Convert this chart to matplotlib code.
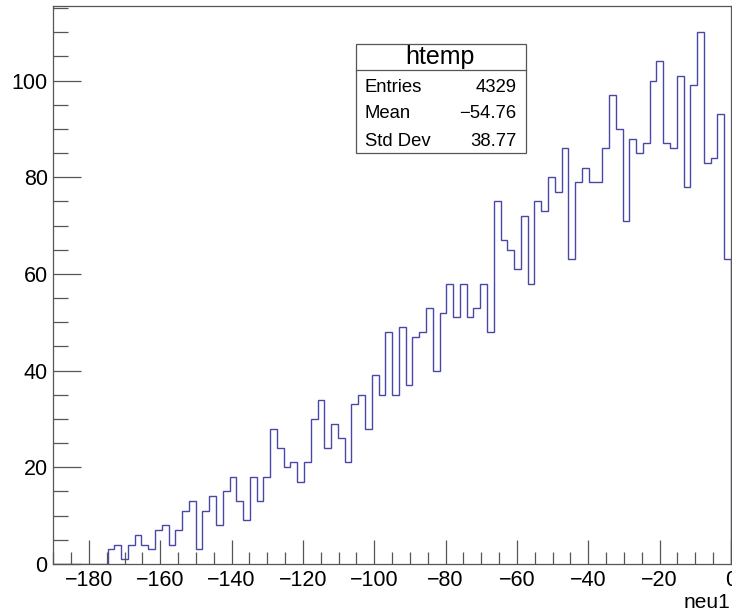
import numpy as np
import matplotlib
matplotlib.use("Agg")
import matplotlib.pyplot as plt
from matplotlib.ticker import MultipleLocator
from matplotlib.patches import Rectangle
from matplotlib.lines import Line2D

plt.rcParams['font.family'] = ['Liberation Sans', 'DejaVu Sans']

# ---- data ----
x_low = -190.0
x_high = 0.0
n_bins = 100
counts = [0, 0, 0, 0, 0, 0, 0, 0,
          3, 4, 1, 4, 6, 4, 3, 7, 8, 4, 7, 11, 13, 3, 11, 14, 8, 15, 18, 13, 9,
          18, 13, 18,
          28, 24, 20, 21, 17, 21, 30, 34, 24, 29, 26, 21, 33, 35, 28, 39, 35, 48,
          35, 49, 37, 47, 48, 53, 40,
          52, 58, 51, 58, 51, 53, 58, 48, 75, 67, 65, 61, 72, 58, 75, 73, 80, 77, 86,
          63, 79, 82, 79, 79, 86, 97, 90, 71, 88, 85, 87, 100, 104, 87, 86, 101, 78,
          99, 110, 83, 84, 93, 63]
hist_name = "htemp"
x_title = "neu1"
stat_labels = ["Entries", "Mean", "Std Dev"]
stat_values = ["4329", "\u221254.76", "38.77"]

# ---- figure ----
W, H = 732, 615
fig = plt.figure(figsize=(W / 100, H / 100), dpi=100)
fig.patch.set_facecolor('white')

def fx(x):
    return x / W

def fy(y):
    return 1 - y / H

left, right, top, bottom = 53.3, 731.0, 5.7, 564.0
ax = fig.add_axes([fx(left), fy(bottom), fx(right) - fx(left), (bottom - top) / H])

edges = np.linspace(x_low, x_high, n_bins + 1)
ax.stairs(counts, edges, color='#4848a8', linewidth=1.0, baseline=0)

ymax = max(counts) * 1.05
ax.set_xlim(x_low, x_high)
ax.set_ylim(0, ymax)

frame_col = '#555555'
for s in ax.spines.values():
    s.set_color(frame_col)
    s.set_linewidth(0.9)

ax.xaxis.set_major_locator(MultipleLocator(20))
ax.xaxis.set_minor_locator(MultipleLocator(5))
ax.yaxis.set_major_locator(MultipleLocator(20))
ax.yaxis.set_minor_locator(MultipleLocator(5))
ax.tick_params(axis='x', which='major', direction='in', length=17.5, width=0.9,
               color=frame_col, labelsize=15.5, pad=4, top=False)
ax.tick_params(axis='x', which='minor', direction='in', length=8.5, width=0.9,
               color=frame_col, top=False)
ax.tick_params(axis='y', which='major', direction='in', length=20.5, width=0.9,
               color=frame_col, labelsize=15.5, pad=4, right=False)
ax.tick_params(axis='y', which='minor', direction='in', length=10.5, width=0.9,
               color=frame_col, right=False)

fig.text(fx(730.5), fy(603), x_title, ha='right', va='center', fontsize=15)

# ---- stats box ----
bl, br, bt, bb = 356, 526, 44, 153
fig.patches.append(Rectangle((fx(bl), fy(bb)), fx(br) - fx(bl), (bb - bt) / H,
                             transform=fig.transFigure, facecolor='white',
                             edgecolor=frame_col, linewidth=0.9, zorder=5))
fig.lines.append(Line2D([fx(bl), fx(br)], [fy(70), fy(70)], transform=fig.transFigure,
                        color=frame_col, linewidth=0.9, zorder=6))
fig.text(fx(440), fy(57), hist_name, ha='center', va='center', fontsize=18, zorder=7)
row_y = [87, 114, 141]
for lab, val, yy in zip(stat_labels, stat_values, row_y):
    fig.text(fx(365), fy(yy), lab, ha='left', va='center', fontsize=13.3, zorder=7)
    fig.text(fx(516.5), fy(yy), val, ha='right', va='center', fontsize=13.3, zorder=7)

fig.savefig('out.png', dpi=100, facecolor='white')
